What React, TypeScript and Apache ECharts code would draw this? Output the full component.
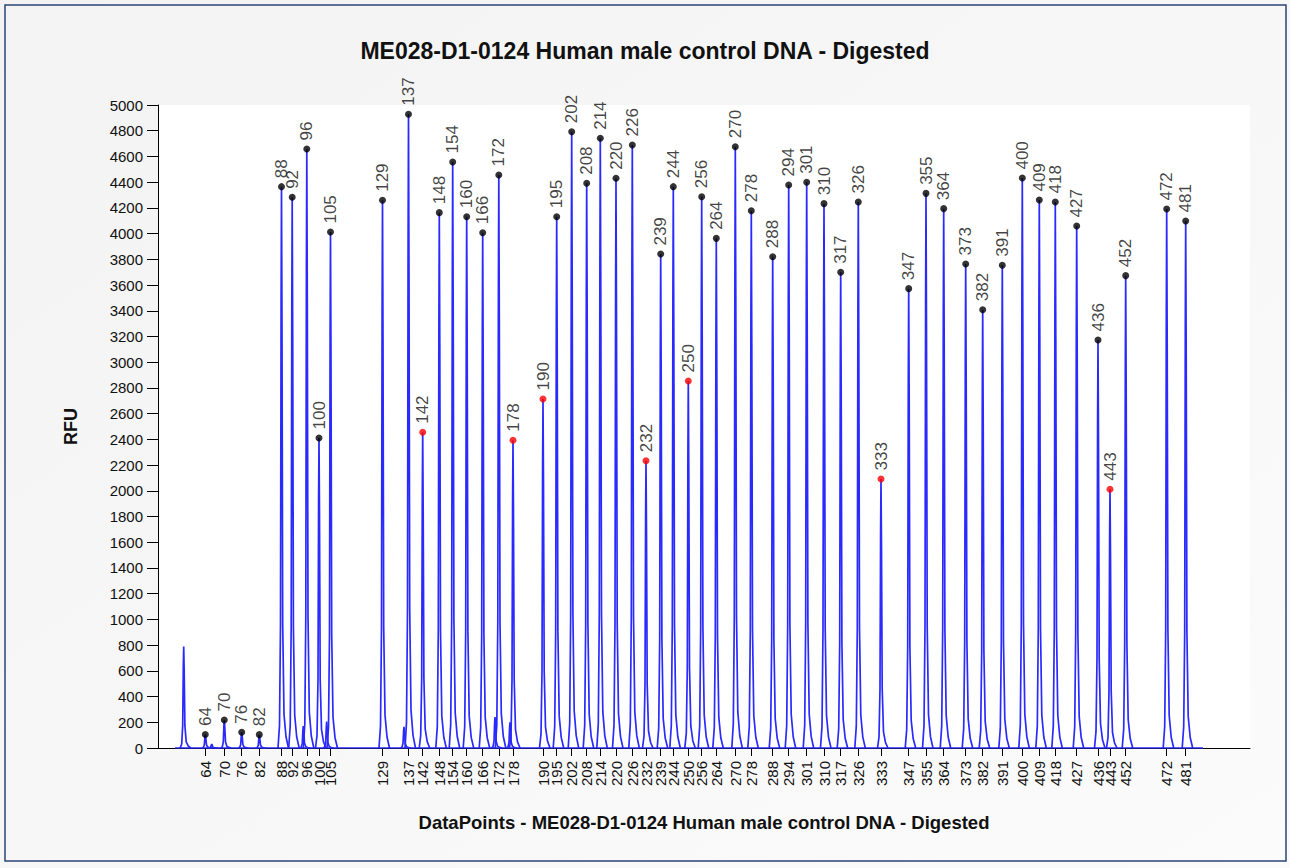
import React, { useEffect, useRef } from "react";
import * as echarts from "echarts";

// Positions are data points along the run
const peakNames = ["64","70","76","82","88","92","96","100","105","129","137","142","148","154","160","166","172","178","190","195","202","208","214","220","226","232","239","244","250","256","264","270","278","288","294","301","310","317","326","333","347","355","364","373","382","391","400","409","418","427","436","443","452","472","481"];
const peakPos = [47.3,66.3,83.7,101.3,123.5,134.2,148.8,161.0,172.5,224.5,250.5,264.7,281.3,294.7,308.7,324.7,340.8,355.0,385.0,398.7,413.7,428.7,442.3,458.0,474.3,488.0,502.7,515.3,530.3,543.7,558.3,577.3,593.3,614.7,630.7,648.7,666.0,682.7,700.3,723.0,750.7,768.0,785.7,807.7,824.7,844.3,864.3,881.3,897.3,918.7,940.0,952.0,967.7,1008.7,1027.7];
const peakRFU = [105,218,122,104,4365,4282,4658,2411,4012,4259,4928,2455,4163,4557,4131,4007,4456,2393,2714,4131,4792,4391,4741,4430,4689,2234,3841,4365,2854,4287,3963,4676,4178,3820,4378,4399,4233,3699,4246,2092,3572,4313,4194,3764,3408,3754,4432,4261,4246,4059,3173,2012,3673,4191,4098];
const flaggedPeaks = ["142","178","190","232","250","333","443"];

// Unlabelled peaks and small shoulders
const extraPos = [25.7, 53.7, 145.3, 168.7, 246.0, 337.0, 352.0];
const extraRFU = [790, 30, 171, 205, 165, 240, 200];

// Baseline span of the trace
const traceStart = 17;
const traceEnd = 1045;

const yTicks = { min: 0, max: 5000, interval: 200 };

const titleText = "ME028-D1-0124 Human male control DNA - Digested";
const xName = "DataPoints - ME028-D1-0124 Human male control DNA - Digested";
const yName = "RFU";

// peak shape profile (offset in data points, fraction of height)
const profileDx = [-3.5, -2, -1, -0.4, 0, 0.5, 1.2, 2.5, 4.5, 7];
const profileFrac = [0, 0.04, 0.22, 0.8, 1, 0.75, 0.22, 0.06, 0.02, 0];

export default function App() {
  const ref = useRef<HTMLDivElement>(null);
  useEffect(() => {
    if (!ref.current) return;
    const chart = echarts.init(ref.current, null, { renderer: "svg" });
    const font = "Arial, 'Liberation Sans', sans-serif";
    const traceColor = "#2a2aff";

    const allPos = [...peakPos, ...extraPos];
    const allH = [...peakRFU, ...extraRFU];
    const peakSeries: any[] = allPos.map((p, i) => ({
      type: "line",
      silent: true,
      symbol: "none",
      lineStyle: { color: traceColor, width: 1.7 },
      data: profileDx.map((d, k) => [p + d, allH[i] * profileFrac[k]]),
      z: 2,
    }));
    const baseline = {
      type: "line",
      silent: true,
      symbol: "none",
      lineStyle: { color: traceColor, width: 1.6 },
      data: [[traceStart, 0], [traceEnd, 0]],
      z: 2,
    };

    const labelMap: Record<string, string> = {};
    peakPos.forEach((p, i) => (labelMap[String(p)] = peakNames[i]));

    const markers = {
      type: "scatter",
      symbol: "circle",
      symbolSize: 7,
      z: 5,
      data: peakPos.map((p, i) => ({
        value: [p, peakRFU[i]],
        name: peakNames[i],
        itemStyle: { color: flaggedPeaks.includes(peakNames[i]) ? "#ff0000" : "#000000" },
      })),
      label: {
        show: true,
        position: "top",
        rotate: 90,
        align: "left",
        verticalAlign: "middle",
        distance: 5,
        formatter: (p: any) => p.name,
        fontSize: 17,
        fontFamily: font,
        color: "#111",
      },
    };

    chart.setOption({
      animation: false,
      backgroundColor: {
        type: "linear",
        x: 0, y: 0, x2: 1, y2: 1,
        colorStops: [
          { offset: 0, color: "#f3f3f3" },
          { offset: 1, color: "#fbfbfb" },
        ],
      },
      title: {
        text: titleText,
        left: "center",
        top: 34,
        textStyle: { fontSize: 23, fontWeight: "bold", fontFamily: font, color: "#111" },
      },
      graphic: [
        {
          type: "rect",
          shape: { x: 5, y: 5, width: 1281, height: 856 },
          style: { fill: "none", stroke: "#2b4677", lineWidth: 1.5 },
          silent: true,
        },
      ],
      grid: {
        left: 158,
        right: 40,
        top: 105,
        bottom: 120,
        show: true,
        backgroundColor: "#ffffff",
        borderWidth: 0,
      },
      xAxis: {
        type: "value",
        min: 0,
        max: 1092,
        name: xName,
        nameLocation: "middle",
        nameGap: 65,
        nameTextStyle: { fontSize: 18.5, fontWeight: "bold", fontFamily: font, color: "#111" },
        splitLine: { show: false },
        axisLine: { show: true, lineStyle: { color: "#000", width: 1 } },
        axisTick: { show: true, length: 8, inside: false, customValues: peakPos, lineStyle: { color: "#000" } },
        axisLabel: {
          show: true,
          customValues: peakPos,
          rotate: 90,
          margin: 13,
          fontSize: 15,
          fontFamily: font,
          color: "#111",
          formatter: (v: number) => labelMap[String(v)] ?? "",
        },
      },
      yAxis: {
        type: "value",
        min: yTicks.min,
        max: yTicks.max,
        interval: yTicks.interval,
        name: yName,
        nameLocation: "middle",
        nameGap: 78,
        nameTextStyle: { fontSize: 18, fontWeight: "bold", fontFamily: font, color: "#111" },
        splitLine: { show: false },
        axisLine: { show: true, lineStyle: { color: "#000", width: 1 } },
        axisTick: { show: true, length: 11, lineStyle: { color: "#000" } },
        axisLabel: {
          fontSize: 15,
          fontFamily: font,
          color: "#111",
          margin: 15,
          formatter: (v: number) => String(v),
        },
      },
      series: [baseline, ...peakSeries, markers],
    });
    return () => chart.dispose();
  }, []);
  return (
    <div
      ref={ref}
      style={{ position: "fixed", left: 0, top: 0, width: 1290, height: 868 }}
    />
  );
}
